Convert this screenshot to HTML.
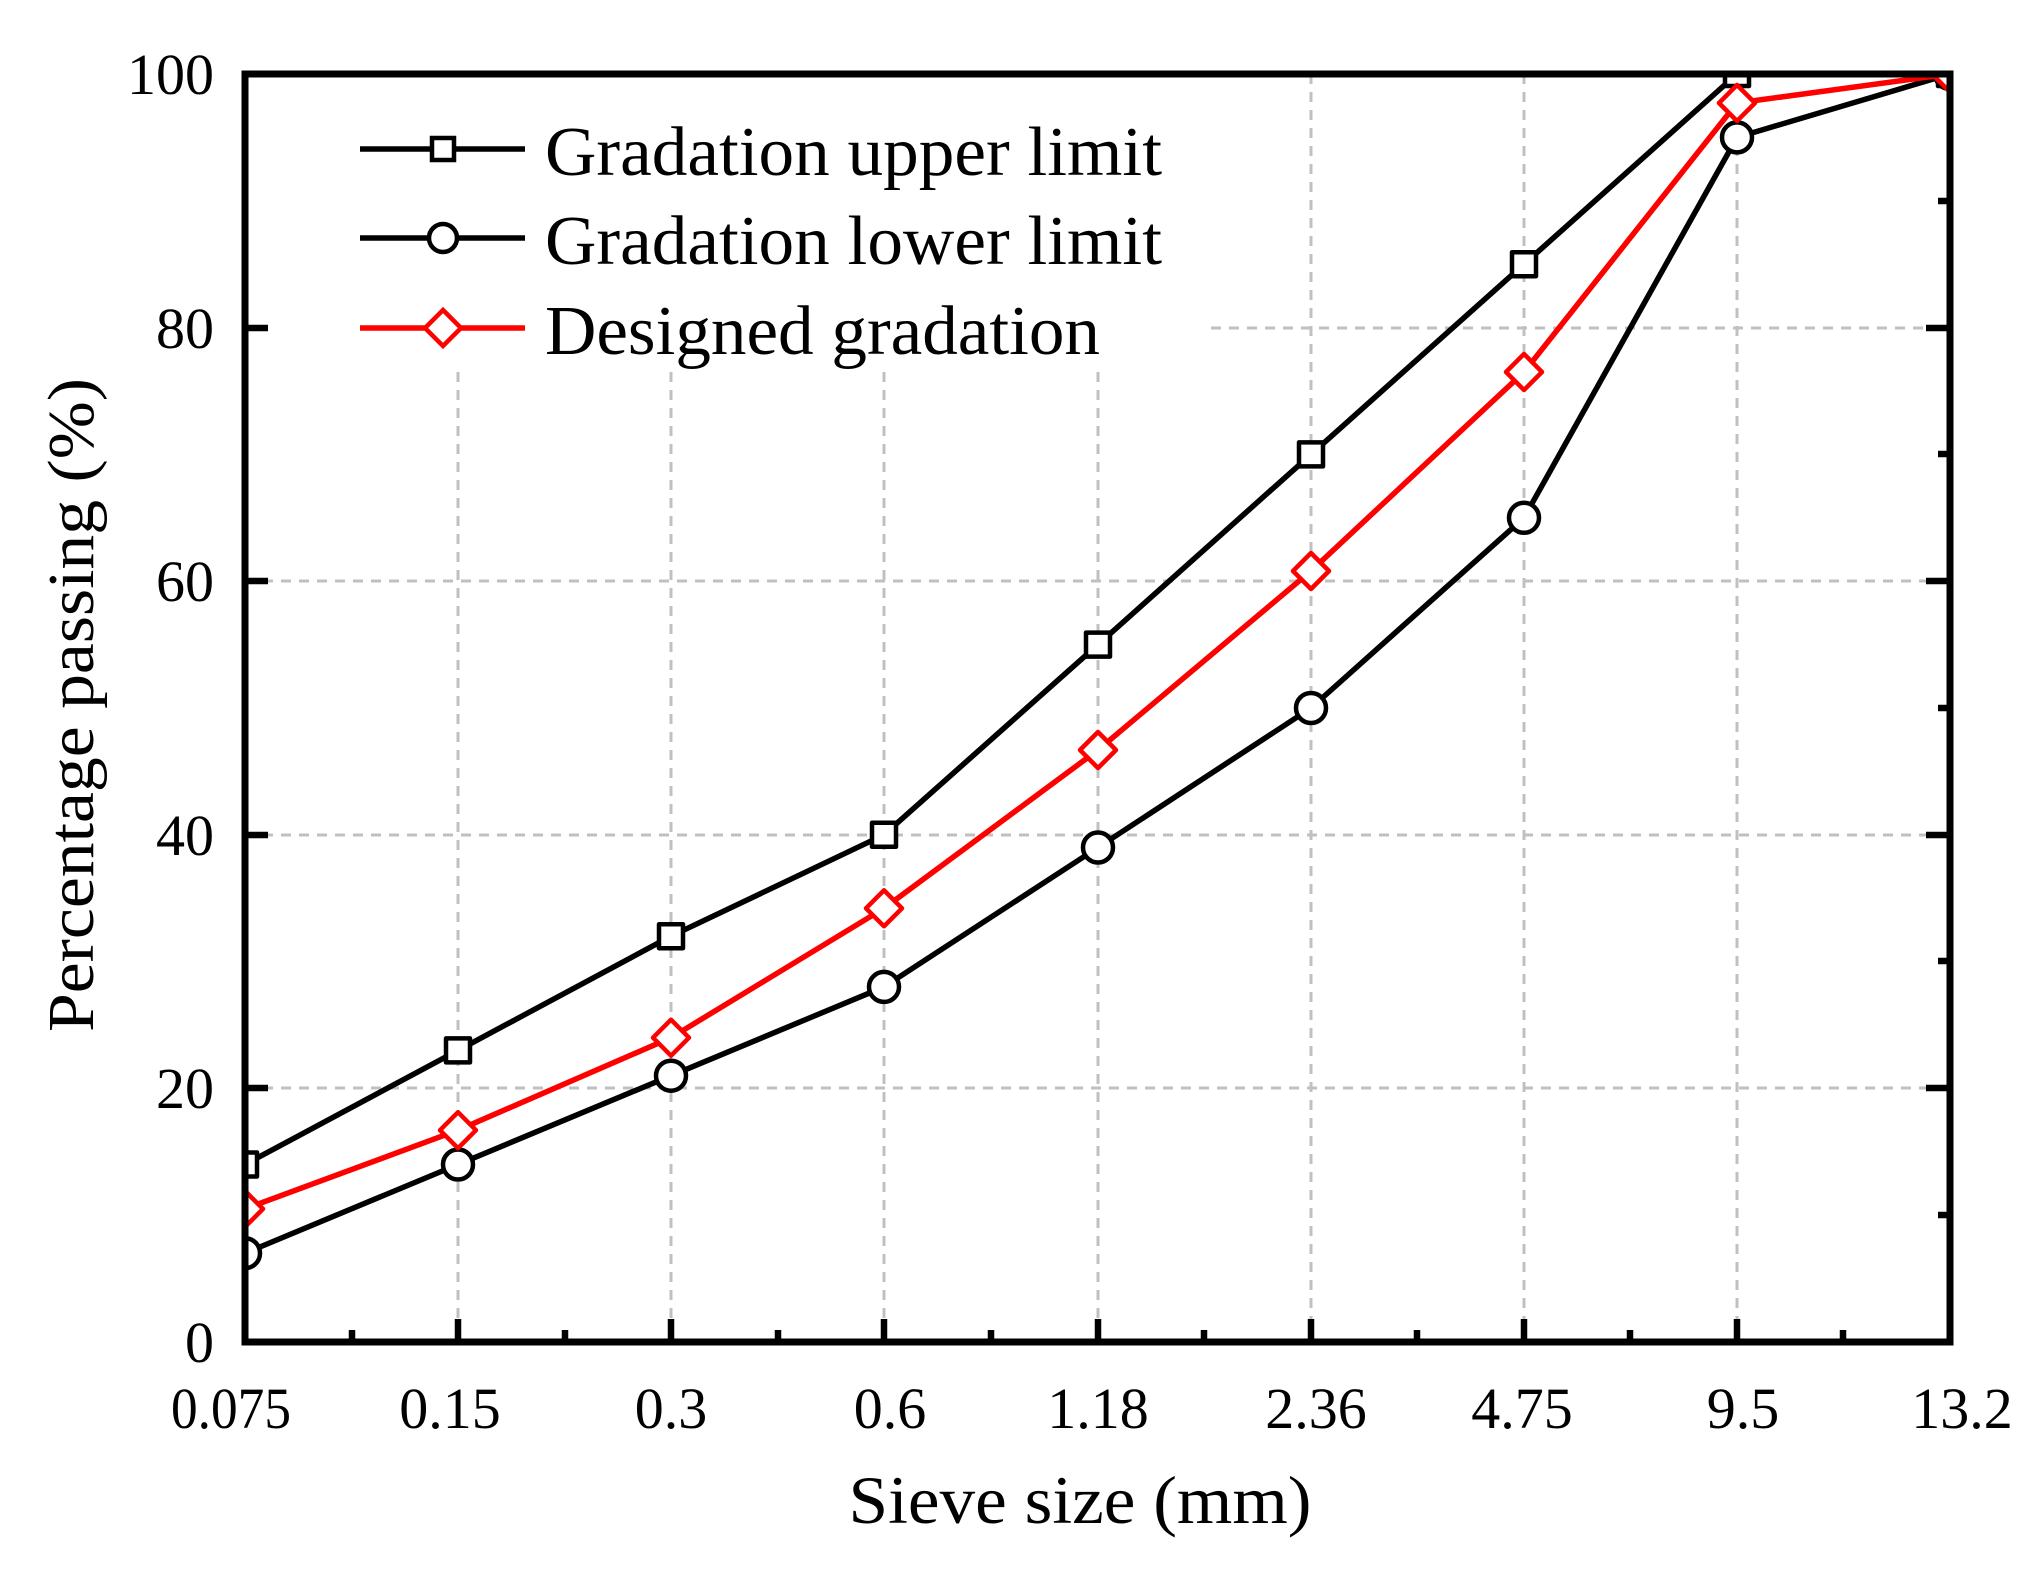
<!DOCTYPE html>
<html><head><meta charset="utf-8"><style>html,body{margin:0;padding:0;background:#fff}</style></head>
<body>
<svg width="2036" height="1569" viewBox="0 0 2036 1569" xmlns="http://www.w3.org/2000/svg" font-family="Liberation Serif, serif">
<defs><clipPath id="c"><rect x="245" y="74" width="1705" height="1268"/></clipPath></defs>
<g stroke="#c0c0c0" stroke-width="3" stroke-dasharray="10,8">
<line x1="458" y1="372" x2="458" y2="1342"/>
<line x1="671" y1="372" x2="671" y2="1342"/>
<line x1="884" y1="372" x2="884" y2="1342"/>
<line x1="1098" y1="372" x2="1098" y2="1342"/>
<line x1="1311" y1="74" x2="1311" y2="1342"/>
<line x1="1524" y1="74" x2="1524" y2="1342"/>
<line x1="1737" y1="74" x2="1737" y2="1342"/>
<line x1="245" y1="1088" x2="1950" y2="1088"/>
<line x1="245" y1="835" x2="1950" y2="835"/>
<line x1="245" y1="581" x2="1950" y2="581"/>
<line x1="1211" y1="328" x2="1950" y2="328"/>
</g>
<g clip-path="url(#c)" stroke-width="5.5" fill="none" stroke-linejoin="round">
<polyline stroke="#000" points="245,1164.5 458,1050.4 671,936.2 884,834.8 1098,644.6 1311,454.4 1524,264.2 1737,74 1950,74"/>
<polyline stroke="#000" points="245,1253.2 458,1164.5 671,1075.7 884,986.9 1098,847.5 1311,708 1524,517.8 1737,137.4 1950,74"/>
<polyline stroke="#f00" points="245,1208.9 458,1130.2 671,1037.7 884,908.3 1098,750 1311,571 1524,372 1737,103 1950,74"/>
<g stroke="#000" stroke-width="4.5" fill="#fff">
<rect x="233" y="1152.5" width="24" height="24"/><rect x="446" y="1038.4" width="24" height="24"/><rect x="659" y="924.2" width="24" height="24"/><rect x="872" y="822.8" width="24" height="24"/><rect x="1086" y="632.6" width="24" height="24"/><rect x="1299" y="442.4" width="24" height="24"/><rect x="1512" y="252.2" width="24" height="24"/><rect x="1725" y="62" width="24" height="24"/><rect x="1938" y="62" width="24" height="24"/>
<circle cx="245" cy="1253.2" r="15"/><circle cx="458" cy="1164.5" r="15"/><circle cx="671" cy="1075.7" r="15"/><circle cx="884" cy="986.9" r="15"/><circle cx="1098" cy="847.5" r="15"/><circle cx="1311" cy="708" r="15"/><circle cx="1524" cy="517.8" r="15"/><circle cx="1737" cy="137.4" r="15"/><circle cx="1950" cy="74" r="15"/>
</g>
<g stroke="#f00" stroke-width="4.5" fill="#fff">
<polygon points="245,1190.9 263,1208.9 245,1226.9 227,1208.9"/>
<polygon points="458,1112.2 476,1130.2 458,1148.2 440,1130.2"/>
<polygon points="671,1019.7 689,1037.7 671,1055.7 653,1037.7"/>
<polygon points="884,890.3 902,908.3 884,926.3 866,908.3"/>
<polygon points="1098,732 1116,750 1098,768 1080,750"/>
<polygon points="1311,553 1329,571 1311,589 1293,571"/>
<polygon points="1524,354 1542,372 1524,390 1506,372"/>
<polygon points="1737,85 1755,103 1737,121 1719,103"/>
<polygon points="1950,56 1968,74 1950,92 1932,74"/>
</g>
</g>
<g stroke="#000" stroke-width="6.5">
<line x1="245" y1="1088" x2="268" y2="1088"/><line x1="245" y1="835" x2="268" y2="835"/><line x1="245" y1="581" x2="268" y2="581"/><line x1="245" y1="328" x2="268" y2="328"/>
<line x1="1950" y1="1088" x2="1926" y2="1088"/><line x1="1950" y1="835" x2="1926" y2="835"/><line x1="1950" y1="581" x2="1926" y2="581"/><line x1="1950" y1="328" x2="1926" y2="328"/>
<line x1="1950" y1="1215" x2="1938" y2="1215"/><line x1="1950" y1="961" x2="1938" y2="961"/><line x1="1950" y1="708" x2="1938" y2="708"/><line x1="1950" y1="454" x2="1938" y2="454"/><line x1="1950" y1="201" x2="1938" y2="201"/>
<line x1="458" y1="1342" x2="458" y2="1319"/><line x1="671" y1="1342" x2="671" y2="1319"/><line x1="884" y1="1342" x2="884" y2="1319"/><line x1="1098" y1="1342" x2="1098" y2="1319"/><line x1="1311" y1="1342" x2="1311" y2="1319"/><line x1="1524" y1="1342" x2="1524" y2="1319"/><line x1="1737" y1="1342" x2="1737" y2="1319"/>
<line x1="352" y1="1342" x2="352" y2="1330"/><line x1="565" y1="1342" x2="565" y2="1330"/><line x1="778" y1="1342" x2="778" y2="1330"/><line x1="991" y1="1342" x2="991" y2="1330"/><line x1="1204" y1="1342" x2="1204" y2="1330"/><line x1="1417" y1="1342" x2="1417" y2="1330"/><line x1="1630" y1="1342" x2="1630" y2="1330"/><line x1="1843" y1="1342" x2="1843" y2="1330"/>
</g>
<rect x="245" y="74" width="1705" height="1268" fill="none" stroke="#000" stroke-width="7"/>
<g font-size="58" fill="#000" text-anchor="end">
<text x="214" y="94">100</text><text x="214" y="348">80</text><text x="214" y="601">60</text><text x="214" y="855">40</text><text x="214" y="1108">20</text><text x="214" y="1362">0</text>
</g>
<g font-size="58" fill="#000" text-anchor="middle">
<text x="231" y="1428" textLength="120" lengthAdjust="spacingAndGlyphs">0.075</text><text x="450" y="1428">0.15</text><text x="671" y="1428">0.3</text><text x="890" y="1428">0.6</text><text x="1098" y="1428">1.18</text><text x="1316" y="1428">2.36</text><text x="1522" y="1428">4.75</text><text x="1743" y="1428">9.5</text><text x="1962" y="1428">13.2</text>
</g>
<text x="1080" y="1523" font-size="68" text-anchor="middle" textLength="463" lengthAdjust="spacingAndGlyphs">Sieve size (mm)</text>
<text transform="translate(93,705) rotate(-90)" font-size="66" text-anchor="middle" textLength="654" lengthAdjust="spacingAndGlyphs">Percentage passing (%)</text>
<g stroke-width="5.5">
<line x1="360" y1="149" x2="525" y2="149" stroke="#000"/>
<rect x="432" y="138" width="22" height="22" fill="#fff" stroke="#000" stroke-width="4.5"/>
<line x1="360" y1="238" x2="525" y2="238" stroke="#000"/>
<circle cx="443" cy="238" r="14" fill="#fff" stroke="#000" stroke-width="4.5"/>
<line x1="360" y1="328" x2="525" y2="328" stroke="#f00"/>
<polygon points="443,310 461,328 443,346 425,328" fill="#fff" stroke="#f00" stroke-width="4.5"/>
</g>
<g font-size="70" fill="#000">
<text x="545" y="175" textLength="617" lengthAdjust="spacingAndGlyphs">Gradation upper limit</text>
<text x="545" y="264" textLength="617" lengthAdjust="spacingAndGlyphs">Gradation lower limit</text>
<text x="545" y="354" textLength="555" lengthAdjust="spacingAndGlyphs">Designed gradation</text>
</g>
</svg>
</body></html>
